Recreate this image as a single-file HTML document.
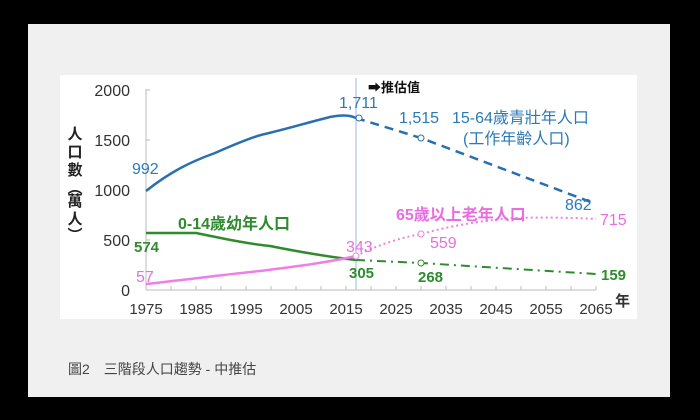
<!DOCTYPE html>
<html><head><meta charset="utf-8"><style>
body{margin:0;width:700px;height:420px;background:#000;overflow:hidden}
svg{display:block}
text{font-family:"Liberation Sans","Noto Sans CJK TC",sans-serif}
</style></head><body>
<svg width="700" height="420" viewBox="0 0 700 420">
<rect x="0" y="0" width="700" height="420" fill="#000"/>
<rect x="28" y="24" width="642" height="373" fill="#f0f0f0"/>
<rect x="60" y="75" width="577" height="244" fill="#fff"/>
<line x1="146" y1="89" x2="146" y2="290" stroke="#bbb"/>
<line x1="146" y1="290" x2="596" y2="290" stroke="#bbb"/>
<g stroke="#bbb">
<line x1="146" y1="90" x2="150" y2="90"/><line x1="146" y1="140" x2="150" y2="140"/><line x1="146" y1="190" x2="150" y2="190"/><line x1="146" y1="240" x2="150" y2="240"/>
<line x1="171" y1="290" x2="171" y2="286"/><line x1="196" y1="290" x2="196" y2="286"/><line x1="221" y1="290" x2="221" y2="286"/><line x1="246" y1="290" x2="246" y2="286"/><line x1="271" y1="290" x2="271" y2="286"/><line x1="296" y1="290" x2="296" y2="286"/><line x1="321" y1="290" x2="321" y2="286"/><line x1="346" y1="290" x2="346" y2="286"/><line x1="371" y1="290" x2="371" y2="286"/><line x1="396" y1="290" x2="396" y2="286"/><line x1="421" y1="290" x2="421" y2="286"/><line x1="446" y1="290" x2="446" y2="286"/><line x1="471" y1="290" x2="471" y2="286"/><line x1="496" y1="290" x2="496" y2="286"/><line x1="521" y1="290" x2="521" y2="286"/><line x1="546" y1="290" x2="546" y2="286"/><line x1="571" y1="290" x2="571" y2="286"/><line x1="596" y1="290" x2="596" y2="286"/>
</g>
<line x1="356" y1="78" x2="356" y2="290" stroke="#9fb7dd" stroke-width="1"/>
<g font-size="16" fill="#333" text-anchor="end">
<text x="130" y="96">2000</text><text x="130" y="146">1500</text><text x="130" y="196">1000</text><text x="130" y="246">500</text><text x="130" y="296">0</text>
</g>
<g font-size="15" fill="#333" text-anchor="middle">
<text x="146" y="314">1975</text><text x="196" y="314">1985</text><text x="246" y="314">1995</text><text x="296" y="314">2005</text><text x="346" y="314">2015</text><text x="396" y="314">2025</text><text x="446" y="314">2035</text><text x="496" y="314">2045</text><text x="546" y="314">2055</text><text x="596" y="314">2065</text>
</g>
<text x="615" y="306" font-size="15" font-weight="bold" fill="#333">年</text>
<g font-size="15" font-weight="bold" fill="#222" text-anchor="middle">
<text x="75" y="139">人</text><text x="75" y="157">口</text><text x="75" y="175">數</text><text x="75" y="193">︵</text><text x="75" y="206">萬</text><text x="75" y="224">人</text><text x="75" y="240">︶</text>
</g>
<text x="368" y="92" font-size="13" font-weight="bold" fill="#111">➡推估值</text>
<path d="M146,191 C170,172 190,162 215,153 C240,142 255,136 265,134 C290,128 310,122 330,117 C340,115 350,115 356,118" fill="none" stroke="#2a6fb0" stroke-width="2.5"/>
<path d="M356,118 L421,138 L596,204" fill="none" stroke="#2a6fb0" stroke-width="2.5" stroke-dasharray="9,6"/>
<circle cx="359" cy="118" r="3" fill="#fff" stroke="#2a6fb0"/><circle cx="421" cy="138" r="3" fill="#fff" stroke="#2a6fb0"/>
<g fill="#2a7ab8" font-size="16">
<text x="132" y="174">992</text><text x="339" y="108">1,711</text><text x="399" y="123">1,515</text><text x="565" y="210">862</text>
<text x="452" y="123">15-64歲青壯年人口</text><text x="463" y="144">(工作年齡人口)</text>
</g>
<path d="M146,233 L196,233 C230,240 250,244 270,246 C300,252 330,257 356,260" fill="none" stroke="#2e8b2e" stroke-width="2.5"/>
<path d="M356,260 L421,263 L596,274" fill="none" stroke="#2e8b2e" stroke-width="2" stroke-dasharray="9,5,2,5"/>
<circle cx="421" cy="263" r="3" fill="#fff" stroke="#2e8b2e"/>
<g fill="#2e8b2e" font-size="15" font-weight="bold">
<text x="134" y="252" font-family="Liberation Serif">574</text><text x="349" y="278" font-family="Liberation Serif">305</text><text x="418" y="282" font-family="Liberation Serif">268</text><text x="601" y="280" font-family="Liberation Serif">159</text>
</g>
<text x="178" y="229" font-size="16" font-weight="bold" fill="#2e8b2e">0-14歲幼年人口</text>
<path d="M146,284 C200,278 230,274 260,271 C300,266 330,262 356,256" fill="none" stroke="#ee7fe8" stroke-width="2.5"/>
<path d="M356,256 C380,244 400,238 421,234 C450,226 480,221 510,218 C550,217 580,218 596,219" fill="none" stroke="#ee7fe8" stroke-width="2" stroke-dasharray="2,3"/>
<circle cx="356" cy="256" r="3" fill="#fff" stroke="#ee7fe8"/><circle cx="421" cy="234" r="3" fill="#fff" stroke="#ee7fe8"/>
<g fill="#e86ee0" font-size="16">
<text x="136" y="282">57</text><text x="346" y="252">343</text><text x="430" y="248">559</text><text x="600" y="225">715</text>
<text x="396" y="220" font-weight="bold">65歲以上老年人口</text>
</g>
<text x="68" y="374" font-size="14" fill="#444">圖2　三階段人口趨勢 - 中推估</text>
</svg>
</body></html>
